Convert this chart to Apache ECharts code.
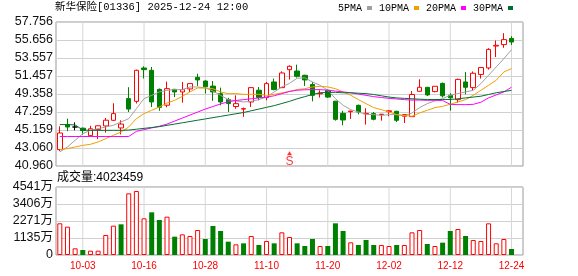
<!DOCTYPE html>
<html><head><meta charset="utf-8">
<script src="https://cdn.jsdelivr.net/npm/echarts@6/dist/echarts.min.js"></script>
<style>html,body{margin:0;padding:0;background:#fff}#c{width:578px;height:276px}</style>
</head><body><div id="c"></div>
<script>
const stockName = '新华保险';
const stockCode = '01336';
const stamp = '2025-12-24 12:00';
const dates = ['09-29','09-30','10-02','10-03','10-06','10-08','10-09','10-10','10-13','10-14',
 '10-15','10-16','10-17','10-20','10-21','10-22','10-23','10-24','10-27','10-28',
 '10-30','10-31','11-03','11-04','11-05','11-06','11-07','11-10','11-11','11-12',
 '11-13','11-14','11-17','11-18','11-19','11-20','11-21','11-24','11-25','11-26',
 '11-27','11-28','12-01','12-02','12-03','12-04','12-05','12-08','12-09','12-10',
 '12-11','12-12','12-15','12-16','12-17','12-18','12-19','12-22','12-23','12-24'];
const labelDates = ['10-03','10-16','10-28','11-10','11-20','12-02','12-12','12-24'];
const priceTicks = ['40.960','43.060','45.159','47.259','49.358','51.457','53.557','55.656','57.756'];
const priceMin = 40.960, priceMax = 57.756;
const volMax = 45410000;
const open = [42.87,45.78,45.51,45.37,44.5,45.2,45.63,46.29,45.4,48.82, 48.5,52.39,52.12,49.9,48.05,49.9,49.6,49.95,51.3,50.87, 50.28,49.4,48.72,47.9,47.6,48.43,49.8,48.94,50.76,50.1, 52.2,52.04,51.54,50.47,49.38,49.79,48.52,47.1,47.3,48.04, 47.04,47.07,46.95,47.3,47.34,46.76,46.72,49.67,50.14,49.64, 50.6,49.21,48.7,50.76,50.1,51.64,52.4,54.95,55.12,55.84];
const close = [44.81,45.51,45.51,45.1,45.3,45.65,46.3,47.07,45.85,47.6, 52.12,52.2,48.43,47.8,49.98,49.6,49.87,50.57,51.0,50.2, 49.6,48.43,48.24,48.23,47.65,50.1,48.95,50.57,49.87,51.81, 52.59,51.42,51.0,49.2,49.45,49.0,46.4,46.33,47.37,47.26, 47.1,46.41,47.0,47.4,46.29,46.96,49.3,50.14,49.25,50.26, 49.15,48.92,51.06,50.14,51.78,52.44,54.56,55.04,55.7,55.42];
const low = [42.7,45.02,45.12,44.62,44.4,44.1,44.85,46.2,44.65,47.26, 48.25,51.16,47.84,47.4,47.8,49.0,48.35,49.6,50.3,49.4, 48.56,48.04,47.26,47.65,46.7,47.85,48.62,48.62,49.79,50.05, 51.04,51.27,50.3,48.5,48.94,48.9,46.25,45.71,46.45,46.99, 45.8,46.29,46.25,46.76,46.09,45.98,46.7,49.67,49.13,49.55, 48.95,47.42,48.35,49.32,49.8,51.16,52.2,53.67,54.75,55.08];
const high = [45.59,46.48,46.05,45.45,45.65,45.7,46.56,48.27,46.29,50.15, 52.2,52.59,52.51,50.0,50.8,49.95,50.76,50.6,51.73,50.96, 50.87,50.1,48.9,49.2,47.77,50.15,50.17,50.76,51.16,52.0, 52.7,52.78,51.6,50.76,49.79,49.87,48.55,47.4,47.38,48.12, 47.7,47.26,47.0,47.46,47.4,46.98,49.69,51.07,50.14,50.28, 50.69,49.45,51.16,51.92,51.99,52.5,54.7,55.6,56.45,56.09];
const ma5 = [42.6,43.18,43.96,44.73,45.12,45.32,45.51,45.71,46.1,46.48, 47.65,48.82,49.2,49.6,49.79,49.87,49.87,50.18,50.18,50.06, 49.71,49.2,48.7,48.55,48.43,48.5,48.7,49.0,49.6,50.18, 50.6,51.2,51.25,50.76,50.37,49.79,48.82,48.04,47.54,47.26, 46.99,46.95,46.87,46.95,46.95,46.8,47.15,47.77,48.24,48.55, 48.82,49.21,49.4,49.6,49.79,50.57,51.54,52.51,53.48,54.53];
const ma10 = [42.87,42.99,43.18,43.37,43.49,43.76,44.15,44.54,44.93,45.51, 46.48,47.07,47.46,47.85,48.31,48.62,49.09,49.6,50.06,50.06, 49.98,49.6,49.4,49.4,49.32,49.32,49.32,49.2,49.32,49.48, 49.67,49.87,49.98,50.18,50.26,50.18,49.98,49.6,49.21,48.7, 48.23,47.77,47.53,47.26,46.95,46.87,46.76,47.15,47.46,47.77, 47.92,48.16,48.43,48.7,49.21,49.79,50.37,50.96,51.93,52.32];
const ma20 = [44.4,44.4,44.4,44.4,44.4,44.4,44.4,44.4,44.4,44.4, 45.0,45.2,45.4,45.6,45.85,46.2,46.55,46.9,47.25,47.6, 47.9,48.2,48.45,48.6,48.7,48.8,48.9,49.0,49.15,49.4, 49.65,49.8,49.85,49.87,49.87,49.8,49.7,49.6,49.5,49.35, 49.2,49.05,48.95,48.85,48.78,48.7,48.65,48.65,48.62,48.62, 48.6,48.15,48.12,48.12,48.15,48.4,48.9,49.25,49.6,50.15];
const ma30 = [45.79,45.79,45.75,45.15,45.12,45.12,45.12,45.12,45.12,45.15, 45.25,45.35,45.45,45.55,45.7,45.85,46.0,46.15,46.3,46.45, 46.6,46.75,46.9,47.05,47.2,47.4,47.6,47.8,48.0,48.25, 48.5,48.8,49.05,49.3,49.5,49.55,49.55,49.5,49.5,49.45, 49.4,49.3,49.15,49.0,48.9,48.85,48.8,48.75,48.72,48.72, 48.72,48.72,48.8,48.9,49.0,49.1,49.3,49.5,49.65,49.78];
const volume = [21170000,18920000,4450000,3340000,2890000,2890000,13360000,19590000,20480000,41190000,
 42740000,24490000,28490000,23370000,25600000,12240000,13800000,12690000,16700000,10680000,
 19370000,16030000,8900000,7120000,7790000,12690000,6680000,9350000,7790000,15140000,
 12020000,7790000,6010000,10680000,6010000,6010000,21150000,16030000,8460000,6680000,
 10020000,6680000,6680000,6010000,6680000,6680000,15140000,16700000,7350000,6010000,
 8230000,16030000,17360000,12690000,10020000,9350000,21150000,7790000,10680000,4023459];
const volUp = [1,1,1,0,1,1,1,1,0,1, 1,1,0,0,1,0,1,1,1,0, 0,0,0,1,0,1,0,1,0,1, 1,0,0,0,1,0,0,0,1,0, 0,0,1,1,0,1,1,1,0,1, 0,0,1,0,1,1,1,1,1,0];
const signalIdx = [30];
const signalText = ['S'];
const maNames = ['5PMA','10PMA','20PMA','30PMA'];
const maColors = ['#a0a0a0','#f0a000','#ff00ff','#00702f'];

const RED = '#ff0000', GREEN = '#008000';
const xCats = dates.concat(['']);

const candleData = dates.map((d, i) => {
  const item = { value: [open[i], close[i], low[i], high[i]] };
  if (open[i] === close[i]) item.itemStyle = { color: '#000', color0: '#000', borderColor: '#000', borderColor0: '#000' };
  return item;
});
const volData = volume.map((v, i) => ({
  value: v,
  itemStyle: volUp[i] ? { color: '#fff', borderColor: RED, borderWidth: 1 } : { color: GREEN, borderColor: GREEN, borderWidth: 0 }
}));

// vertical guides at the labelled dates, as 1px full-height bars on their own hidden axes
const guidePrice = dates.map(d => labelDates.includes(d) ? priceTicks.length - 1 : '-');
const guideVol = dates.map(d => labelDates.includes(d) ? volMax : '-');

const chart = echarts.init(document.getElementById('c'), null, { renderer: 'canvas' });
const maSeries = [ma5, ma10, ma20, ma30].map((arr, k) => ({
  name: maNames[k], type: 'line', xAxisIndex: 0, yAxisIndex: 0, data: arr, symbol: 'none',
  lineStyle: { color: maColors[k], width: 1 }, itemStyle: { color: maColors[k] }, z: 5, silent: true
}));
const hiddenCat = g => ({ type: 'category', gridIndex: g, data: xCats, boundaryGap: true, show: false });
chart.setOption({
  animation: false,
  title: [
    { text: stockName + '[' + stockCode + '] ' + stamp, left: 55, top: 2, padding: 0,
      textStyle: { fontSize: 10.5, fontWeight: 'normal', color: '#000', fontFamily: "'Liberation Mono','Noto Sans CJK SC'" } },
    { text: '成交量:' + volume[volume.length - 1], left: 57, top: 172, padding: 0,
      textStyle: { fontSize: 12, fontWeight: 'normal', color: '#000', fontFamily: "'Liberation Sans','Noto Sans CJK SC'" } }
  ],
  legend: {
    data: maNames, left: 338, top: 3, padding: 0, align: 'right', icon: 'rect', itemWidth: 5, itemHeight: 4, itemGap: 7,
    selectedMode: false, textStyle: { fontFamily: "'Liberation Mono'", fontSize: 10, color: '#000', padding: [0, 0, 0, 0] }
  },
  grid: [
    { left: 56, top: 22, width: 467, height: 144, show: true, borderColor: '#999', borderWidth: 1, backgroundColor: 'transparent' },
    { left: 56, top: 187, width: 467, height: 68, show: true, borderColor: '#999', borderWidth: 1, backgroundColor: 'transparent' }
  ],
  xAxis: [
    { type: 'category', gridIndex: 0, data: xCats, boundaryGap: true, axisLine: { show: false }, axisTick: { show: false }, axisLabel: { show: false }, splitLine: { show: false } },
    { type: 'category', gridIndex: 1, data: xCats, boundaryGap: true, axisLine: { show: false }, axisTick: { show: false }, splitLine: { show: false },
      axisLabel: { interval: (i, v) => labelDates.includes(v), color: RED, fontSize: 10, margin: 6, fontFamily: "'Liberation Sans'" } },
    hiddenCat(0),
    hiddenCat(1)
  ],
  yAxis: [
    { type: 'value', gridIndex: 0, min: priceMin, max: priceMax, show: false },
    { type: 'value', gridIndex: 0, min: 0, max: priceTicks.length - 1, interval: 1, position: 'left',
      axisLine: { show: false }, axisTick: { show: false },
      splitLine: { lineStyle: { color: '#d0d0d0', width: 1 } },
      axisLabel: { formatter: v => priceTicks[Math.round(v)], color: '#111', fontSize: 12.5, margin: 3, fontFamily: "'Liberation Sans'" } },
    { type: 'value', gridIndex: 1, min: 0, max: volMax, interval: volMax / 4, position: 'left',
      axisLine: { show: false }, axisTick: { show: false },
      splitLine: { lineStyle: { color: '#d0d0d0', width: 1 } },
      axisLabel: { formatter: v => v === 0 ? '0' : Math.round(v / 10000) + '万', color: '#111', fontSize: 12.5, margin: 3, fontFamily: "'Liberation Sans','Noto Sans CJK SC'" } }
  ],
  series: [
    { type: 'bar', xAxisIndex: 2, yAxisIndex: 1, data: guidePrice, barWidth: 1, silent: true, z: 1,
      itemStyle: { color: '#d6d6d6', borderWidth: 0 } },
    { type: 'bar', xAxisIndex: 3, yAxisIndex: 2, data: guideVol, barWidth: 1, silent: true, z: 1,
      itemStyle: { color: '#d6d6d6', borderWidth: 0 } },
    { type: 'candlestick', xAxisIndex: 0, yAxisIndex: 0, data: candleData, barWidth: 5, silent: true,
      itemStyle: { color: '#fff', color0: GREEN, borderColor: RED, borderColor0: GREEN, borderWidth: 1 }, z: 3 },
    ...maSeries,
    { type: 'scatter', xAxisIndex: 0, yAxisIndex: 0, silent: true,
      data: signalIdx.map((k, j) => ({ value: [k, 42.45], label: { formatter: signalText[j] } })),
      symbol: 'triangle', symbolSize: [5, 4], itemStyle: { color: RED }, z: 6,
      label: { show: true, position: 'bottom', distance: 0, color: RED, fontSize: 12, fontFamily: "'Liberation Sans'" } },
    { type: 'bar', xAxisIndex: 1, yAxisIndex: 2, data: volData, barWidth: 5, silent: true, z: 3 }
  ]
});
</script></body></html>
